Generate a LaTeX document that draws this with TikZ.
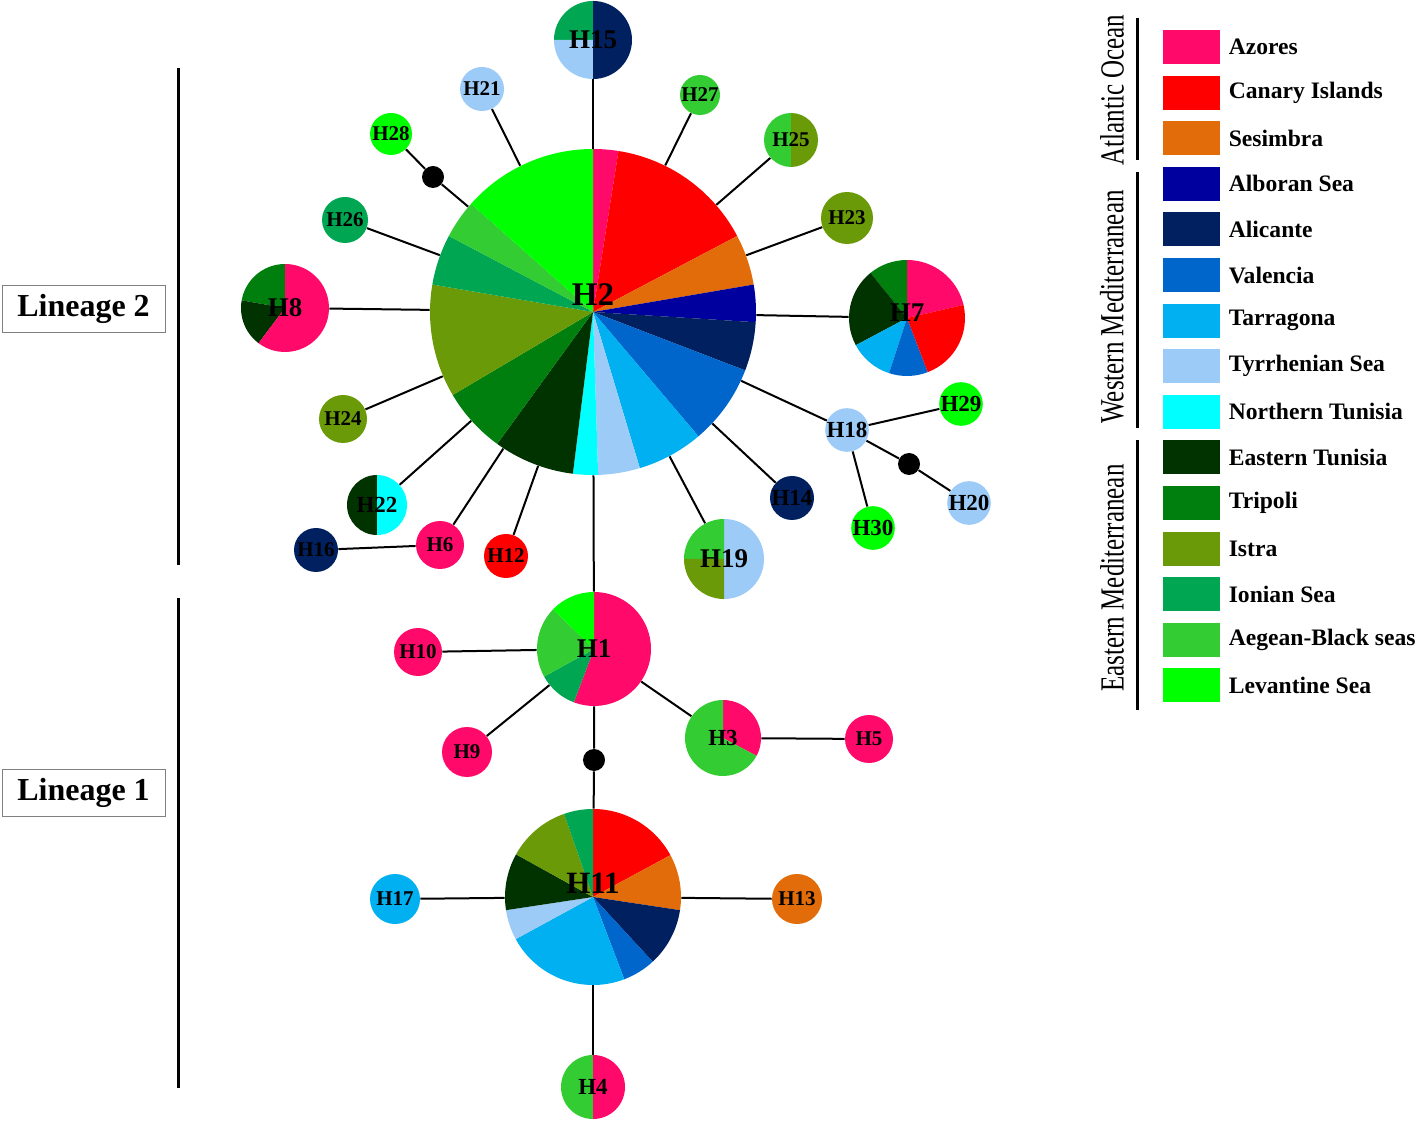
\documentclass[tikz,border=0pt]{standalone}
\usepackage{fontspec}
\setmainfont{Liberation Serif}
\usepackage{graphicx}
\usetikzlibrary{positioning, backgrounds}

% region colours
\definecolor{azores}{HTML}{FF0A6A}
\definecolor{canary}{HTML}{FF0000}
\definecolor{sesimbra}{HTML}{E36C0A}
\definecolor{alboran}{HTML}{00009E}
\definecolor{alicante}{HTML}{002060}
\definecolor{valencia}{HTML}{0066CC}
\definecolor{tarragona}{HTML}{00B0F0}
\definecolor{tyrrhen}{HTML}{9DCBF7}
\definecolor{ntunisia}{HTML}{00FFFF}
\definecolor{etunisia}{HTML}{003300}
\definecolor{tripoli}{HTML}{007F0E}
\definecolor{istra}{HTML}{6A9A08}
\definecolor{ionian}{HTML}{00A651}
\definecolor{aegean}{HTML}{33CC33}
\definecolor{levantine}{HTML}{00FF00}

% pie slices behind a haplotype node: node, radius, start/end/colour list
\newcommand{\hpie}[3]{%
  \begin{scope}[on background layer]
    \foreach \sa/\sb/\col in {#3}
      \fill[\col] (#1.center) -- ++(\sa:#2) arc[start angle=\sa, end angle=\sb, radius=#2] -- cycle;
  \end{scope}}

\begin{document}
\begin{tikzpicture}[
  x=0.5pt, y=0.5pt,
  hap/.style={circle, inner sep=0pt, minimum size=#1pt,
    font=\bfseries\fontsize{10.5}{12}\selectfont},
  mid/.style={font=\bfseries\fontsize{11.5}{13}\selectfont},
  big/.style={font=\bfseries\fontsize{13.5}{15}\selectfont},
  vertex/.style={circle, fill=black, inner sep=0pt, minimum size=11pt},
  link/.style={line width=1pt, black},
  bar/.style={line width=1.5pt, black},
  lineage/.style={rectangle, draw=black!50, line width=0.4pt, minimum width=81.5pt,
    minimum height=23.5pt, font=\bfseries\fontsize{16}{18}\selectfont},
  legbox/.style={rectangle, minimum width=28.5pt, minimum height=17pt, inner sep=0pt},
  legtext/.style={font=\bfseries\fontsize{11.8}{13}\selectfont, inner sep=0pt},
  group/.style={rotate=90, inner sep=0pt, font=\fontsize{12.5}{14}\selectfont}
]
\useasboundingbox (0,0) rectangle (1418,-1127);

% ===== LINEAGE 2 =====
\node[hap=163, font=\bfseries\fontsize{16.5}{18}\selectfont,
  text height=11pt, text depth=17pt] (H2) at (593,-312) {H2};
\node[hap=39, big] (H15) at (593,-40) {H15};
\node[hap=22, fill=tyrrhen] (H21) at (482,-89) {H21};
\node[hap=20, fill=aegean] (H27) at (700,-95) {H27};
\node[hap=21, fill=levantine] (H28) at (391,-134) {H28};
\node[vertex] (m1) at (433,-177) {};
\node[hap=27] (H25) at (791,-140) {H25};
\node[hap=26, fill=istra] (H23) at (847,-218) {H23};
\node[hap=23, fill=ionian] (H26) at (345,-220) {H26};
\node[hap=44, big] (H8) at (285,-308) {H8};
\node[hap=58, big, text height=9pt, text depth=5pt] (H7) at (907,-318) {H7};
\node[hap=24, fill=istra] (H24) at (343,-419) {H24};
\node[hap=30, mid] (H22) at (377,-505) {H22};
\node[hap=22, fill=alicante] (H16) at (316,-550) {H16};
\node[hap=24, fill=azores] (H6) at (440,-545) {H6};
\node[hap=22, fill=canary] (H12) at (506,-556) {H12};
\node[hap=40, big] (H19) at (724,-559) {H19};
\node[hap=22, mid, fill=alicante] (H14) at (792,-498) {H14};
\node[hap=21, mid, fill=tyrrhen] (H18) at (847,-430) {H18};
\node[hap=21, mid, fill=levantine] (H29) at (961,-404) {H29};
\node[vertex] (m2) at (909,-464) {};
\node[hap=21, mid, fill=tyrrhen] (H20) at (969,-503) {H20};
\node[hap=20, mid, fill=levantine] (H30) at (873,-528) {H30};

\hpie{H2}{163}{81/90/azores, 27.8/81/canary, 9.7/27.8/sesimbra, -3.6/9.7/alboran,
  -21/-3.6/alicante, -49.7/-21/valencia, -73.3/-49.7/tarragona, -88.2/-73.3/tyrrhen,
  -97.1/-88.2/ntunisia, -126/-97.1/etunisia, -149.4/-126/tripoli, -189.7/-149.4/istra,
  -207.8/-189.7/ionian, -221.6/-207.8/aegean, -270/-221.6/levantine}
\hpie{H15}{39}{90/180/ionian, 180/270/tyrrhen, -90/90/alicante}
\hpie{H25}{27}{90/270/aegean, -90/90/istra}
\hpie{H8}{44}{90/170/tripoli, 170/233/etunisia, 233/450/azores}
\hpie{H7}{58}{13/90/azores, 90/129/tripoli, 129/208/etunisia, 208/252/tarragona,
  252/291/valencia, 291/373/canary}
\hpie{H22}{30}{90/270/etunisia, -90/90/ntunisia}
\hpie{H19}{40}{-90/90/tyrrhen, 90/180/aegean, 180/270/istra}

\draw[link] (H15) -- (H2);
\draw[link] (H21) -- (H2);
\draw[link] (H27) -- (H2);
\draw[link] (H28) -- (m1) -- (H2);
\draw[link] (H25) -- (H2);
\draw[link] (H23) -- (H2);
\draw[link] (H26) -- (H2);
\draw[link] (H8) -- (H2);
\draw[link] (H7) -- (H2);
\draw[link] (H24) -- (H2);
\draw[link] (H22) -- (H2);
\draw[link] (H6) -- (H2);
\draw[link] (H12) -- (H2);
\draw[link] (H19) -- (H2);
\draw[link] (H14) -- (H2);
\draw[link] (H18) -- (H2);
\draw[link] (H16) -- (H6);
\draw[link] (H18) -- (H29);
\draw[link] (H18) -- (H30);
\draw[link] (H18) -- (m2) -- (H20);

% ===== LINEAGE 1 =====
\node[hap=57, big] (H1) at (594,-649) {H1};
\node[hap=24, fill=azores] (H10) at (418,-652) {H10};
\node[hap=25, fill=azores] (H9) at (467,-752) {H9};
\node[hap=38, mid] (H3) at (723,-738) {H3};
\node[hap=24, fill=azores] (H5) at (869,-739) {H5};
\node[vertex] (m3) at (594,-760) {};
\node[hap=88, font=\bfseries\fontsize{15.5}{17}\selectfont,
  text height=10.5pt, text depth=14pt] (H11) at (593,-897) {H11};
\node[hap=25, fill=tarragona] (H17) at (395,-899) {H17};
\node[hap=25, fill=sesimbra] (H13) at (797,-899) {H13};
\node[hap=32, mid] (H4) at (593,-1087) {H4};

\hpie{H1}{57}{-110.7/90/azores, -151/-110.7/ionian, 136/209/aegean, 90/136/levantine}
\hpie{H3}{38}{-28/90/azores, 90/332/aegean}
\hpie{H11}{88}{28.4/90/canary, -8.6/28.4/sesimbra, -47.3/-8.6/alicante,
  -69.2/-47.3/valencia, -151.4/-69.2/tarragona, -171.4/-151.4/tyrrhen,
  -209/-171.4/etunisia, -250.8/-209/istra, -270/-250.8/ionian}
\hpie{H4}{32}{90/270/aegean, -90/90/azores}

\draw[link] (H2) -- (H1);
\draw[link] (H10) -- (H1);
\draw[link] (H9) -- (H1);
\draw[link] (H3) -- (H1);
\draw[link] (H3) -- (H5);
\draw[link] (H1) -- (m3) -- (H11);
\draw[link] (H17) -- (H11);
\draw[link] (H13) -- (H11);
\draw[link] (H11) -- (H4);

% ===== LINEAGE BARS =====
\node[lineage] (lin2) at (83.5,-308.5) {Lineage 2};
\node[lineage] (lin1) at (83.5,-792.5) {Lineage 1};
\draw[bar] (178,-68) -- (178,-565);
\draw[bar] (178,-598) -- (178,-1088);

% ===== LEGEND =====
\foreach \col/\lab [count=\i] in {azores/Azores, canary/Canary Islands, sesimbra/Sesimbra,
    alboran/Alboran Sea, alicante/Alicante, valencia/Valencia, tarragona/Tarragona,
    tyrrhen/Tyrrhenian Sea, ntunisia/Northern Tunisia, etunisia/Eastern Tunisia,
    tripoli/Tripoli, istra/Istra, ionian/Ionian Sea, aegean/Aegean-Black seas,
    levantine/Levantine Sea}{
  \node[legbox, fill=\col] (leg\i) at (1191.5,{-47-45.6*(\i-1)}) {};
  \node[legtext, right=4pt of leg\i] (lt\i) {\lab};
}
\draw[bar] (1137,-18) -- (1137,-160);
\draw[bar] (1137,-172) -- (1137,-428);
\draw[bar] (1137,-440) -- (1137,-710);
\node[group] (atl) at (1112,-90) {\scalebox{1}[1.35]{Atlantic Ocean}};
\node[group] (wmed) at (1112,-307) {\scalebox{1}[1.35]{Western Mediterranean}};
\node[group] (emed) at (1112,-578) {\scalebox{1}[1.35]{Eastern Mediterranean}};
\end{tikzpicture}
\end{document}
